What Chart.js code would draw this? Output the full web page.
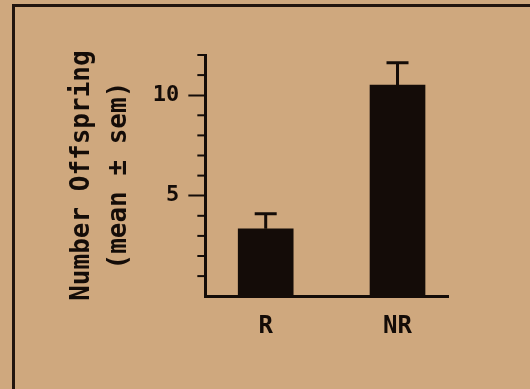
<!DOCTYPE html>
<html>
<head>
<meta charset="utf-8">
<script src="https://cdn.jsdelivr.net/npm/chart.js@4.4.1/dist/chart.umd.min.js"></script>
<style>
  html, body { margin: 0; padding: 0; }
  body { width: 530px; height: 389px; background: #cfa87e; position: relative; overflow: hidden; }
  #frame { position: absolute; left: 12px; top: 4px; width: 600px; height: 500px; border-top: 3px solid #22150e; border-left: 3px solid #22150e; }
  #wrap { position: absolute; left: 0; top: 0; width: 530px; height: 389px; }
</style>
</head>
<body>
<div id="frame"></div>
<div id="wrap"><canvas id="chart" width="530" height="389"></canvas></div>
<script>
const categories = ['R', 'NR'];
const means = [3.35, 10.5];
const sems = [0.75, 1.12];
const yLabels = [5, 10];

const ink = '#140c08';
const font = "'DejaVu Sans Mono', 'Liberation Mono', monospace";

// error bars + short minor ticks, drawn through the chart scales
const extras = {
    id: 'extras',
    afterDatasetsDraw(chart) {
        const ctx = chart.ctx;
        const y = chart.scales.y;
        const meta = chart.getDatasetMeta(0);
        ctx.save();
        ctx.strokeStyle = ink;
        ctx.lineWidth = 3;
        meta.data.forEach((bar, i) => {
            const top = y.getPixelForValue(means[i] + sems[i]);
            ctx.beginPath();
            ctx.moveTo(bar.x, bar.y);
            ctx.lineTo(bar.x, top);
            ctx.moveTo(bar.x - 11, top);
            ctx.lineTo(bar.x + 11, top);
            ctx.stroke();
        });
        ctx.lineWidth = 2;
        y.ticks.forEach(t => {
            if (t.value === 0 || yLabels.includes(t.value)) return;
            const py = y.getPixelForValue(t.value);
            ctx.beginPath();
            ctx.moveTo(y.right - 8, py);
            ctx.lineTo(y.right, py);
            ctx.stroke();
        });
        ctx.restore();
    }
};

new Chart(document.getElementById('chart'), {
    type: 'bar',
    data: {
        datasets: [{
            data: means.map((m, i) => ({ x: i + 1, y: m })),
            backgroundColor: ink,
            barThickness: 55
        }]
    },
    options: {
        responsive: false,
        animation: false,
        layout: { padding: { left: 58, top: 55, right: 82, bottom: 32 } },
        plugins: { legend: { display: false }, tooltip: { enabled: false } },
        scales: {
            x: {
                type: 'linear',
                offset: false,
                min: 0.542,
                max: 2.383,
                afterBuildTicks: s => { s.ticks = categories.map((c, i) => ({ value: i + 1 })); },
                grid: { display: false, drawTicks: false, offset: false },
                border: { display: true, color: ink, width: 3 },
                ticks: {
                    callback: v => categories[v - 1],
                    color: ink,
                    padding: 16,
                    maxRotation: 0,
                    autoSkip: false,
                    font: { family: font, size: 24, weight: 'bold' }
                }
            },
            y: {
                min: 0,
                max: 12,
                ticks: {
                    stepSize: 1,
                    autoSkip: false,
                    callback: v => yLabels.includes(v) ? String(v) : '',
                    color: ink,
                    padding: 9,
                    font: { family: font, size: 22, weight: 'bold' }
                },
                grid: {
                    drawOnChartArea: false,
                    tickLength: 17,
                    tickWidth: 2,
                    tickColor: c => yLabels.includes(c.tick.value) ? ink : 'rgba(0,0,0,0)'
                },
                border: { display: true, color: ink, width: 3 },
                title: {
                    display: true,
                    text: ['Number Offspring', '(mean \u00b1 sem)'],
                    color: ink,
                    padding: 6,
                    font: { family: font, size: 26, weight: 'bold', lineHeight: 1.42 }
                }
            }
        }
    },
    plugins: [extras]
});
</script>
</body>
</html>
